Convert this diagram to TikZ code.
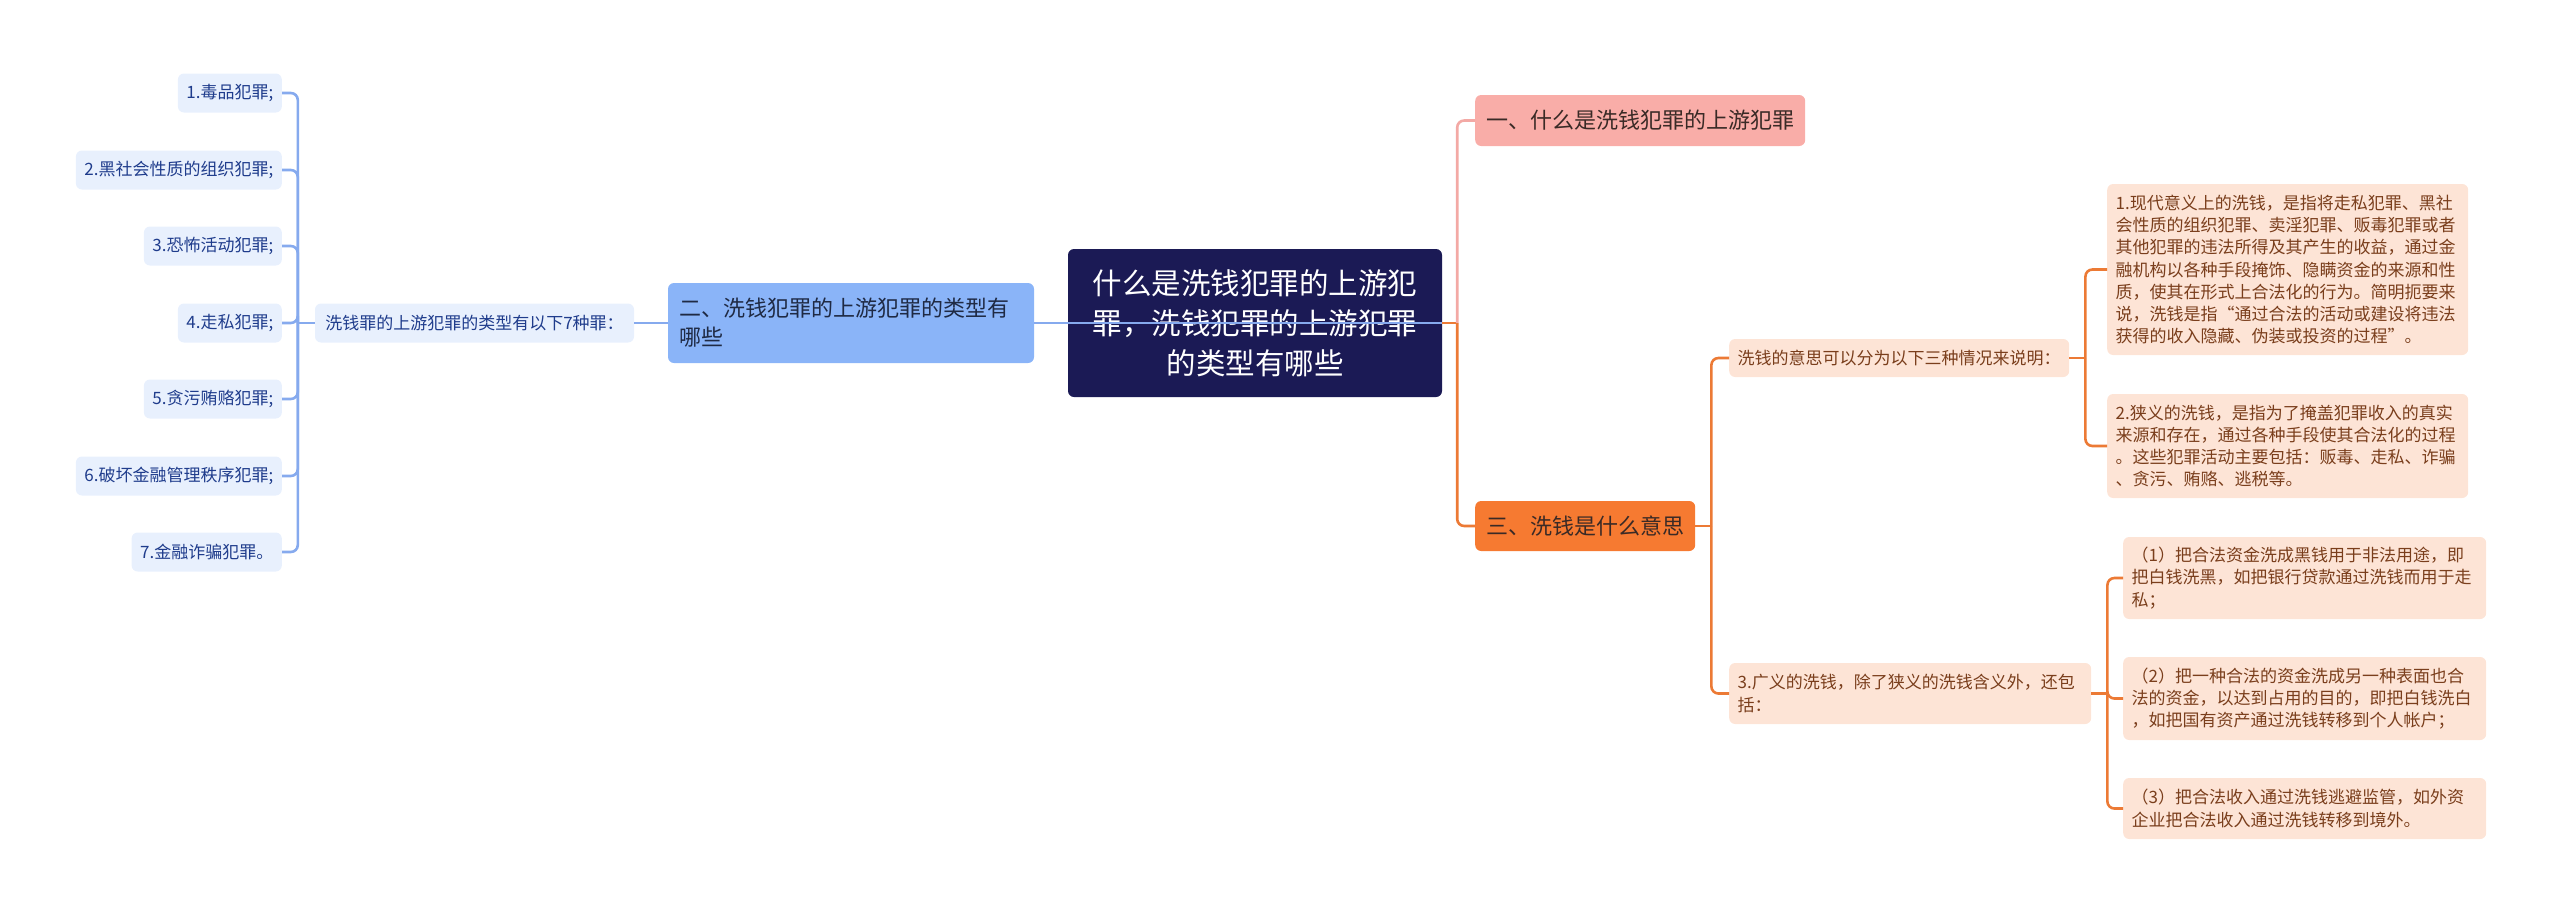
\documentclass[tikz,border=0pt]{standalone}
\usepackage{fontspec}
\newfontfamily\cjk{Noto Sans CJK SC}
\usetikzlibrary{calc}
\definecolor{rootc}{HTML}{1B1A55}
\definecolor{bluef}{HTML}{8AB4F8}
\definecolor{bluet}{HTML}{1F2A44}
\definecolor{bline}{HTML}{86AAEE}
\definecolor{lfill}{HTML}{E8F0FD}
\definecolor{ltext}{HTML}{1F3C8C}
\definecolor{pinkf}{HTML}{F9ADA8}
\definecolor{pline}{HTML}{F3A9A5}
\definecolor{darkt}{HTML}{3A2A26}
\definecolor{orangef}{HTML}{F67A31}
\definecolor{oline}{HTML}{EC7A35}
\definecolor{peach}{HTML}{FDE4D6}
\definecolor{ptext}{HTML}{7A3E1C}
\begin{document}
\begin{tikzpicture}[x=1pt,y=-1pt,
  base/.style={rounded corners=6pt, inner ysep=0pt},
  f17/.style={font=\cjk\fontsize{17}{22.2}\selectfont},
  f22/.style={font=\cjk\fontsize{22}{29}\selectfont},
  lnode/.style={base, f17, fill=lfill, text=ltext, inner xsep=8.5pt, minimum height=39pt, anchor=east},
  pnode/.style={base, f17, fill=peach, text=ptext, inner xsep=8.5pt, align=left, anchor=west},
  bconn/.style={draw=bline, line width=2.6pt, rounded corners=7pt},
  oconn/.style={draw=oline, line width=2.6pt, rounded corners=7pt},
  pconn/.style={draw=pline, line width=2.6pt, rounded corners=7pt}
]
\useasboundingbox (0,0) rectangle (2560,914);

% root
\node[base, fill=rootc, text=white, font=\cjk\fontsize{29.5}{40}\selectfont,
  text width=350pt, inner xsep=12pt, align=center, minimum height=148pt] (root) at (1255,323)
  {什么是洗钱犯罪的上游犯\\罪，洗钱犯罪的上游犯罪\\的类型有哪些};

% left branch
\node[base, f22, fill=bluef, text=bluet, text width=344pt, inner xsep=11pt, align=left,
  minimum height=80pt] (blue) at (851,323) {二、洗钱犯罪的上游犯罪的类型有\\哪些};
\node[lnode, anchor=center, minimum width=319pt] (mid) at (474.5,323) {洗钱罪的上游犯罪的类型有以下7种罪：};
\node[lnode] (l1) at (282,93) {1.毒品犯罪;};
\node[lnode] (l2) at (282,170) {2.黑社会性质的组织犯罪;};
\node[lnode] (l3) at (282,246) {3.恐怖活动犯罪;};
\node[lnode] (l4) at (282,323) {4.走私犯罪;};
\node[lnode] (l5) at (282,399) {5.贪污贿赂犯罪;};
\node[lnode] (l6) at (282,476) {6.破坏金融管理秩序犯罪;};
\node[lnode] (l7) at (282,552) {7.金融诈骗犯罪。};

% right branch
\node[base, f22, fill=pinkf, text=darkt, inner xsep=11pt, minimum height=51pt, anchor=west] (pink) at (1475,120.5) {一、什么是洗钱犯罪的上游犯罪};
\node[base, f22, fill=orangef, text=darkt, inner xsep=11pt, minimum height=50pt, anchor=west] (o3) at (1475,526) {三、洗钱是什么意思};

\node[pnode, minimum height=38pt] (yisi) at (1729,358) {洗钱的意思可以分为以下三种情况来说明：};
\node[pnode, text width=345pt, minimum height=61pt] (gy) at (1729,693.5) {3.广义的洗钱，除了狭义的洗钱含义外，还包\\括：};

\node[pnode, text width=344pt, minimum height=171pt] (x1) at (2107,269.5)
 {1.现代意义上的洗钱，是指将走私犯罪、黑社\\会性质的组织犯罪、卖淫犯罪、贩毒犯罪或者\\其他犯罪的违法所得及其产生的收益，通过金\\融机构以各种手段掩饰、隐瞒资金的来源和性\\质，使其在形式上合法化的行为。简明扼要来\\说，洗钱是指“通过合法的活动或建设将违法\\获得的收入隐藏、伪装或投资的过程”。};
\node[pnode, text width=344pt, minimum height=104pt] (x2) at (2107,446)
 {2.狭义的洗钱，是指为了掩盖犯罪收入的真实\\来源和存在，通过各种手段使其合法化的过程\\。这些犯罪活动主要包括：贩毒、走私、诈骗\\、贪污、贿赂、逃税等。};

\node[pnode, text width=346pt, minimum height=82pt] (g1) at (2123,578)
 {（1）把合法资金洗成黑钱用于非法用途，即\\把白钱洗黑，如把银行贷款通过洗钱而用于走\\私；};
\node[pnode, text width=346pt, minimum height=83pt] (g2) at (2123,698.5)
 {（2）把一种合法的资金洗成另一种表面也合\\法的资金，以达到占用的目的，即把白钱洗白\\，如把国有资产通过洗钱转移到个人帐户；};
\node[pnode, text width=346pt, minimum height=61pt] (g3) at (2123,808.5)
 {（3）把合法收入通过洗钱逃避监管，如外资\\企业把合法收入通过洗钱转移到境外。};

% junctions
\coordinate (jL) at ($(mid.west)+(-17,0)$);
\coordinate (jR) at ($(root.east)+(15,0)$);
\coordinate (jO) at ($(o3.east)+(16,0)$);
\coordinate (jY) at ($(yisi.east)+(16,0)$);
\coordinate (jG) at ($(gy.east)+(16,0)$);

% left connectors
\draw[bconn] (blue.west) -- (mid.east);
\draw[bconn] (mid.west) -- (jL);
\foreach \i in {1,...,7} { \draw[bconn] (jL) |- (l\i.east); }

% right connectors
\draw[oconn] (root.east) -- (jR);
\draw[pconn] (jR) |- (pink.west);
\draw[oconn] (jR) |- (o3.west);
\draw[oconn] (o3.east) -- (jO);
\draw[oconn] (jO) |- (yisi.west);
\draw[oconn] (jO) |- (gy.west);
\draw[oconn] (yisi.east) -- (jY);
\draw[oconn] (jY) |- (x1.west);
\draw[oconn] (jY) |- (x2.west);
\draw[oconn] (gy.east) -- (jG);
\draw[oconn] (jG) |- (g1.west);
\draw[oconn] (jG) |- (g2.west);
\draw[oconn] (jG) |- (g3.west);

% blue line crossing the root, as in the reference
\draw[draw=bline, line width=2pt] (blue.east) -- (root.east);
\end{tikzpicture}
\end{document}
